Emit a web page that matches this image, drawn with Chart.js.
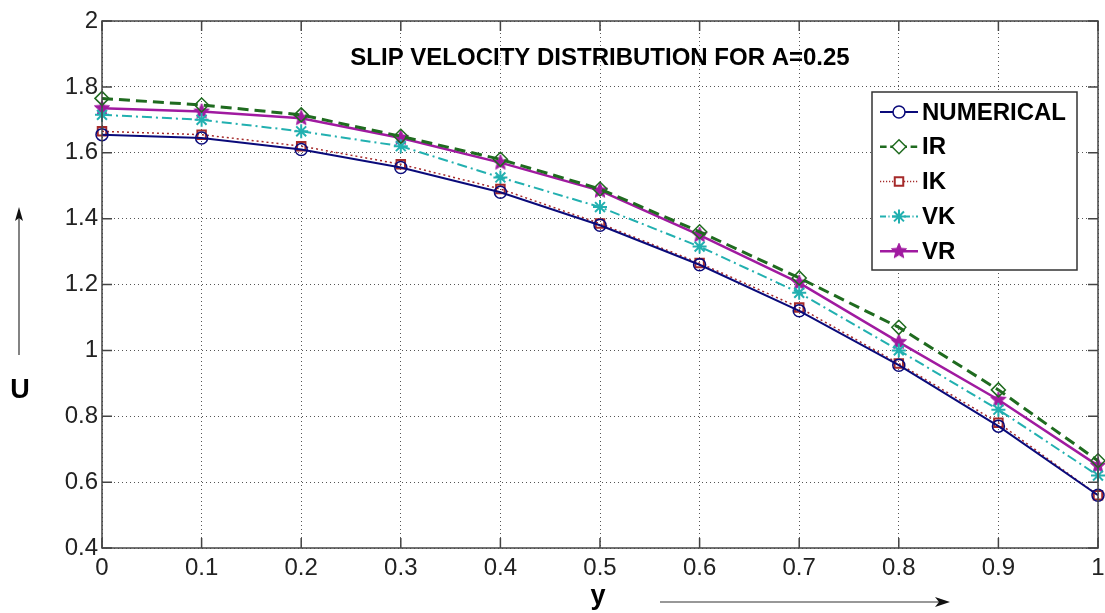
<!DOCTYPE html>
<html lang="en">
<head>
    <meta charset="UTF-8">
    <title>Slip Velocity Distribution</title>
    <script src="https://cdn.jsdelivr.net/npm/chart.js"></script>
    <style>
        body {
            margin: 0;
            background: #fff;
        }
        canvas {
            display: block;
        }
    </style>
</head>
<body>

<canvas id="slipChart" width="1105" height="613"></canvas>

<script>
    // y positions across the channel (x axis)
    const yPositions = [0, 0.1, 0.2, 0.3, 0.4, 0.5, 0.6, 0.7, 0.8, 0.9, 1];

    // velocity U for each method
    const numerical = [1.655, 1.645, 1.61, 1.555, 1.48, 1.38, 1.26, 1.12, 0.955, 0.77, 0.56];
    const irValues  = [1.765, 1.745, 1.715, 1.65, 1.58, 1.49, 1.36, 1.22, 1.07, 0.88, 0.665];
    const ikValues  = [1.665, 1.655, 1.62, 1.565, 1.49, 1.385, 1.265, 1.13, 0.96, 0.78, 0.56];
    const vkValues  = [1.715, 1.70, 1.665, 1.62, 1.525, 1.435, 1.315, 1.175, 1.0, 0.82, 0.62];
    const vrValues  = [1.735, 1.725, 1.705, 1.645, 1.57, 1.485, 1.35, 1.205, 1.025, 0.85, 0.65];

    const seriesNames = ['NUMERICAL', 'IR', 'IK', 'VK', 'VR'];

    const FONT = "'Liberation Sans', Arial, sans-serif";

    // filled five point star for the VR markers
    function makeStar(color, r) {
        const c = document.createElement('canvas');
        const size = Math.ceil(r * 2 + 2);
        c.width = size;
        c.height = size;
        const g = c.getContext('2d');
        const cx = size / 2, cy = size / 2;
        g.beginPath();
        for (let i = 0; i < 10; i++) {
            const rad = i % 2 === 0 ? r : r * 0.45;
            const a = -Math.PI / 2 + i * Math.PI / 5;
            const px = cx + rad * Math.cos(a);
            const py = cy + rad * Math.sin(a);
            if (i === 0) g.moveTo(px, py); else g.lineTo(px, py);
        }
        g.closePath();
        g.fillStyle = color;
        g.fill();
        g.strokeStyle = color;
        g.lineWidth = 1;
        g.stroke();
        return c;
    }

    const starImg = makeStar('#a01aa0', 8);

    function toPoints(vals) {
        return vals.map((v, i) => ({ x: yPositions[i], y: v }));
    }

    const datasets = [
        {
            label: seriesNames[0],
            data: toPoints(numerical),
            borderColor: '#0a0a7a',
            backgroundColor: 'rgba(0,0,0,0)',
            borderWidth: 2,
            pointStyle: 'circle',
            pointRadius: 6,
            pointBorderWidth: 1.5,
            pointBorderColor: '#0a0a7a',
            pointBackgroundColor: 'rgba(0,0,0,0)',
            clip: false
        },
        {
            label: seriesNames[1],
            data: toPoints(irValues),
            borderColor: '#1f6b1f',
            backgroundColor: 'rgba(0,0,0,0)',
            borderWidth: 3,
            borderDash: [11, 6],
            pointStyle: 'rectRot',
            pointRadius: 7,
            pointBorderWidth: 1.5,
            pointBorderColor: '#1f6b1f',
            pointBackgroundColor: 'rgba(0,0,0,0)',
            clip: false
        },
        {
            label: seriesNames[2],
            data: toPoints(ikValues),
            borderColor: '#a52a2a',
            backgroundColor: 'rgba(0,0,0,0)',
            borderWidth: 1.5,
            borderDash: [2, 3],
            pointStyle: 'rect',
            pointRadius: 6,
            pointBorderWidth: 2,
            pointBorderColor: '#a52a2a',
            pointBackgroundColor: 'rgba(0,0,0,0)',
            clip: false
        },
        {
            label: seriesNames[3],
            data: toPoints(vkValues),
            borderColor: '#22b0b0',
            backgroundColor: 'rgba(0,0,0,0)',
            borderWidth: 2,
            borderDash: [10, 4, 2, 4],
            pointStyle: 'star',
            pointRadius: 7,
            pointBorderWidth: 2,
            pointBorderColor: '#22b0b0',
            pointBackgroundColor: 'rgba(0,0,0,0)',
            clip: false
        },
        {
            label: seriesNames[4],
            data: toPoints(vrValues),
            borderColor: '#a01aa0',
            backgroundColor: 'rgba(0,0,0,0)',
            borderWidth: 2.5,
            pointStyle: starImg,
            pointRadius: 8,
            clip: false
        }
    ];

    // axes box, inward ticks, title, legend and axis labels
    const overlay = {
        id: 'overlay',
        afterDraw(chart) {
            const ctx = chart.ctx;
            const a = chart.chartArea;
            const xs = chart.scales.x;
            const ys = chart.scales.y;
            ctx.save();

            // inward tick marks on all four sides
            ctx.strokeStyle = '#444';
            ctx.lineWidth = 1.5;
            ctx.beginPath();
            xs.ticks.forEach(t => {
                const px = xs.getPixelForValue(t.value);
                ctx.moveTo(px, a.bottom); ctx.lineTo(px, a.bottom - 10);
                ctx.moveTo(px, a.top); ctx.lineTo(px, a.top + 10);
            });
            ys.ticks.forEach(t => {
                const py = ys.getPixelForValue(t.value);
                ctx.moveTo(a.left, py); ctx.lineTo(a.left + 10, py);
                ctx.moveTo(a.right, py); ctx.lineTo(a.right - 10, py);
            });
            ctx.stroke();
            ctx.strokeRect(a.left, a.top, a.right - a.left, a.bottom - a.top);

            // title inside the plot
            ctx.fillStyle = '#000';
            ctx.font = 'bold 24px ' + FONT;
            ctx.textAlign = 'center';
            ctx.textBaseline = 'middle';
            ctx.fillText('SLIP VELOCITY DISTRIBUTION FOR A=0.25', (a.left + a.right) / 2, 58);

            // legend box
            const lx = 872, ly = 92, lw = 205, lh = 178;
            ctx.fillStyle = '#fff';
            ctx.fillRect(lx, ly, lw, lh);
            ctx.strokeStyle = '#333';
            ctx.lineWidth = 1.5;
            ctx.strokeRect(lx, ly, lw, lh);
            chart.data.datasets.forEach((ds, i) => {
                const cy = 112 + i * 34.8;
                ctx.save();
                ctx.strokeStyle = ds.borderColor;
                ctx.lineWidth = Math.min(ds.borderWidth, 2.5);
                ctx.setLineDash(ds.borderDash ? ds.borderDash.map(d => d * 0.6) : []);
                ctx.beginPath();
                ctx.moveTo(880, cy);
                ctx.lineTo(918, cy);
                ctx.stroke();
                ctx.restore();

                ctx.save();
                ctx.strokeStyle = ds.pointBorderColor || ds.borderColor;
                ctx.fillStyle = '#fff';
                ctx.lineWidth = ds.pointBorderWidth || 1;
                Chart.helpers.drawPoint(ctx, {
                    pointStyle: ds.pointStyle,
                    radius: ds.pointRadius,
                    borderWidth: ds.pointBorderWidth || 1,
                    rotation: 0
                }, 899, cy);
                ctx.restore();

                ctx.fillStyle = '#000';
                ctx.font = 'bold 24px ' + FONT;
                ctx.textAlign = 'left';
                ctx.textBaseline = 'middle';
                ctx.fillText(ds.label, 922, cy + 1);
            });

            // axis labels with arrows
            ctx.fillStyle = '#000';
            ctx.font = 'bold 27px ' + FONT;
            ctx.textAlign = 'center';
            ctx.textBaseline = 'middle';
            ctx.fillText('U', 20, 391);
            ctx.fillText('y', 598, 597);

            ctx.strokeStyle = '#333';
            ctx.lineWidth = 1.2;
            ctx.beginPath();
            ctx.moveTo(19, 355); ctx.lineTo(19, 210);
            ctx.moveTo(660, 602); ctx.lineTo(946, 602);
            ctx.stroke();
            ctx.fillStyle = '#111';
            ctx.beginPath();
            ctx.moveTo(19, 207); ctx.lineTo(15, 221); ctx.lineTo(19, 218); ctx.lineTo(23, 221);
            ctx.closePath();
            ctx.fill();
            ctx.beginPath();
            ctx.moveTo(950, 602); ctx.lineTo(935, 597); ctx.lineTo(939, 602); ctx.lineTo(935, 607);
            ctx.closePath();
            ctx.fill();

            ctx.restore();
        }
    };

    function fmt(v) {
        return String(Number(v.toFixed(1)));
    }

    const ctx = document.getElementById('slipChart').getContext('2d');
    const slipChart = new Chart(ctx, {
        type: 'line',
        data: { datasets: datasets },
        options: {
            responsive: false,
            animation: false,
            layout: {
                // no extra room for the edge markers, the plot box is fixed
                autoPadding: false,
                padding: { top: 21, right: 7, left: 0, bottom: 0 }
            },
            plugins: {
                legend: { display: false },
                tooltip: { enabled: false },
                title: { display: false }
            },
            scales: {
                x: {
                    type: 'linear',
                    min: 0,
                    max: 1,
                    afterFit: s => {
                        s.height = 65;
                        s.paddingLeft = 0;
                        s.paddingRight = 0;
                    },
                    ticks: {
                        stepSize: 0.1,
                        padding: 6,
                        color: '#222',
                        font: { family: FONT, size: 24 },
                        maxRotation: 0,
                        callback: v => fmt(v)
                    },
                    grid: {
                        color: '#555',
                        lineWidth: 1,
                        drawTicks: false
                    },
                    border: { display: false, dash: [1, 3] }
                },
                y: {
                    min: 0.4,
                    max: 2,
                    afterFit: s => {
                        s.width = 102;
                        s.paddingTop = 0;
                        s.paddingBottom = 0;
                    },
                    ticks: {
                        stepSize: 0.2,
                        padding: 4,
                        color: '#222',
                        font: { family: FONT, size: 24 },
                        callback: v => fmt(v)
                    },
                    grid: {
                        color: '#555',
                        lineWidth: 1,
                        drawTicks: false
                    },
                    border: { display: false, dash: [1, 3] }
                }
            }
        },
        plugins: [overlay]
    });
</script>

</body>
</html>
